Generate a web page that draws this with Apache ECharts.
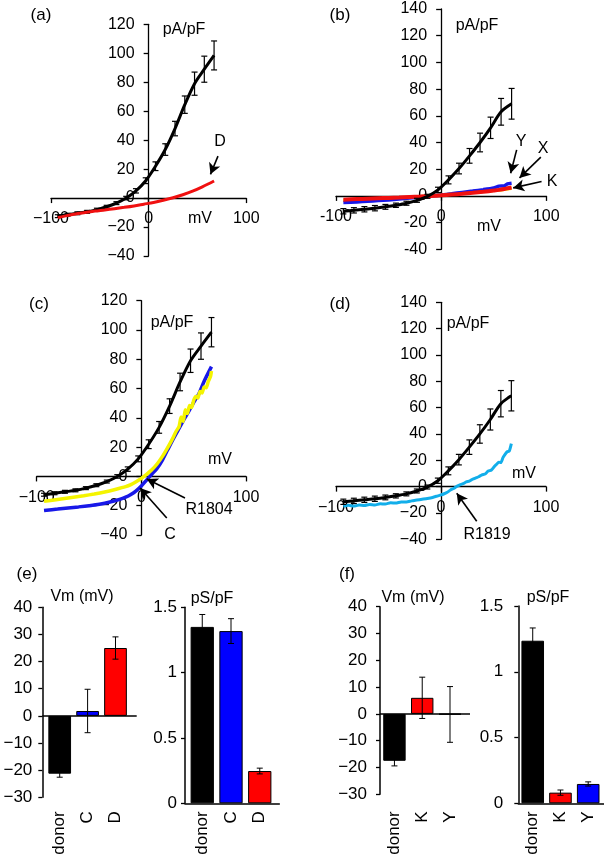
<!DOCTYPE html>
<html><head><meta charset="utf-8">
<script src="https://cdn.jsdelivr.net/npm/echarts@6/dist/echarts.min.js"></script>
<style>html,body{margin:0;padding:0;background:#fff}#c{width:604px;height:859px}</style>
</head><body><div id="c"></div>
<script>
// ---------- data ----------
const stepMv = [-93,-83,-73,-63,-53,-43,-33,-23,-13,-3,7,17,27,37,47,57,67];
// donor (panels a, c)
const donorAC = [-12.5,-11.5,-10.5,-9.5,-8,-6,-3.5,0,5,12,22,33.5,48,64.5,79,89,98.5];
const donorACErr = [1,1,1,1,1,1,1,1.2,1.5,2,3,4,5,6,8,9,10];
// donor (panels b, d)
const donorBD = [-11.5,-10.8,-10,-9.2,-8.2,-7,-5.5,-3.3,-0.3,4.5,12,20.5,30,40,51,63,69];
const donorBDErr = [2,2,2,2,1.8,1.6,1.5,1.5,1.5,2,3,4,5.5,7,8,10,11.5];

// (a) ramp D
const rampMvA = [-93,-85,-75,-65,-55,-45,-35,-25,-15,-5,5,15,25,35,45,55,67];
const rampD = [-13.5,-12.3,-11,-10,-9,-8.2,-7.3,-6.4,-5.4,-4.2,-3,-1.5,0.2,2.3,4.8,7.8,11.8];

// (b) ramps X (yellow), Y (blue), K (red)
const rampMvB = [-93,-80,-70,-60,-50,-40,-30,-20,-10,0,10,20,30,40,50,55,60,63,67];
const rampX = [-3.5,-3,-2.6,-2.2,-1.8,-1.4,-1,-0.5,0,0.8,1.4,2,2.6,3.2,4,4.3,4.8,5.2,5.6];
const rampY = [-5,-4.5,-4,-3.5,-3,-2.3,-1.6,-0.9,-0.1,0.7,1.6,2.6,3.6,4.7,6,7.3,7.5,9,9.5];
const rampK = [-2.8,-2.4,-2.1,-1.8,-1.5,-1.2,-0.8,-0.5,-0.1,0.4,1,1.6,2.3,3.1,4,4.5,5.2,5.7,6.3];

// (c) ramps C (blue), R1804 (yellow)
const rampMvC = [-93,-80,-70,-60,-50,-40,-30,-20,-15,-10,-5,0,5,10,15,20,25,30,35,40,45,50,55,60,67];
const rampC = [-23.2,-22.3,-21.5,-20.8,-20,-19,-17.5,-15.5,-14.2,-12.3,-9.8,-6.5,-2.5,1.5,5.5,11,18,25,31.5,38,44,50.5,56.5,65,75];
const rampMvR1804 = [-93,-85,-75,-65,-55,-45,-35,-25,-15,-10,-5,0,5,10,15,20,25,30,33,36,38,40,42,44,46,48,50,52,54,56,58,60,62,64,66,67];
const rampR1804 = [-17,-16.2,-15.2,-14.2,-13.2,-12,-10.6,-8.9,-7,-5.6,-3.6,-1.3,1.4,4.5,8.5,13.5,19.5,26,30.5,34,40.5,37.5,45.5,43,48.5,47,52,54.5,53.5,58,57,61,60.5,65,68,72];

// (d) ramp R1819 (light blue)
const rampMvD = [-93,-88,-83,-78,-73,-68,-63,-58,-53,-48,-43,-38,-33,-28,-23,-18,-13,-8,-3,0,3,6,9,12,15,18,21,24,27,30,33,36,39,42,45,48,51,53,55,57,59,61,63,65,67];
const rampR1819 = [-15,-14.2,-14.8,-14,-14.4,-13.6,-13.9,-13,-13.2,-12.3,-12.5,-11.6,-11.7,-10.8,-10.2,-9.6,-9,-8.2,-7,-6.3,-5.4,-4.3,-2.6,-1.4,0.2,1.4,2.2,3.6,4.1,5.6,6.6,7.5,9,9.6,11.8,12.6,15.5,17,18.6,18.3,22,24.5,26.5,27,32.6];

// (e) bars
const eCats = ['donor','C','D'];
const eVm = [-21.3, 1.8, 25];
const eVmErr = [1.3, 8, 4.1];
const eG = [1.35, 1.318, 0.247];
const eGErr = [0.095, 0.095, 0.022];
// (f) bars
const fCats = ['donor','K','Y'];
const fVm = [-17.5, 6, -0.2];
const fVmErr = [1.9, 7.7, 10.4];
const fG = [1.236, 0.081, 0.147];
const fGErr = [0.097, 0.02, 0.016];

// annotation arrows (data coords: [tail, tip])
const arrowA_D = [[71, 29], [63.3, 16.4]];
const arrowB_Y = [[71.8, 34.5], [66.1, 17]];
const arrowB_X = [[94.8, 29], [74.5, 13.5]];
const arrowB_K = [[95.5, 10.8], [68.5, 6]];
const arrowC_R = [[41.7, -14.7], [5.2, -1.8]];
const arrowC_C = [[24.3, -28.4], [-1.2, -7.9]];
const arrowD_R = [[34, -26.3], [15, -5]];

// ---------- chart ----------
const FONT = '"Liberation Sans", Arial, Helvetica, sans-serif';
const BLACK = '#000';
const minusFmt = v => (v < 0 ? '\u2212' + Math.abs(v) : String(v));
const hyphenFmt = v => String(v);

// IV panels: plot rectangles and value ranges
const ivPanels = [
  {left:51,   top:24.3,  width:195.3, height:231.7, ymax:120, fmt:minusFmt},
  {left:336,  top:9,     width:210.3, height:240.3, ymax:140, fmt:hyphenFmt},
  {left:36.7, top:300.7, width:209.3, height:234.3, ymax:120, fmt:minusFmt},
  {left:336,  top:302.3, width:210,   height:237,   ymax:140, fmt:minusFmt}
];
const XMIN = -100, XMAX = 100, YMIN = -40;

const barGrids = [
  {left:42.3, top:607.3, width:94.4,  height:190},
  {left:185,  top:607.3, width:94.3,  height:196},
  {left:380,  top:606.7, width:90,    height:187.6},
  {left:518.3,top:606,   width:85.7,  height:197.3}
];

const gridBase = {outerBoundsMode:'none', containLabel:false, show:false};
const grids = [];
const xAxes = [];
const yAxes = [];

function hiddenAxis(gi, min, max) {
  return {gridIndex:gi, type:'value', min:min, max:max, show:false, splitLine:{show:false}};
}
const axisLineStyle = {color:BLACK, width:1.3};

// 0-3: IV data grids (hidden axes)
ivPanels.forEach((p, i) => {
  grids.push(Object.assign({}, gridBase, {left:p.left, top:p.top, width:p.width, height:p.height}));
  xAxes.push(hiddenAxis(i, XMIN, XMAX));
  yAxes.push(hiddenAxis(i, YMIN, p.ymax));
});
// 4-7: bar grids
barGrids.forEach(g => grids.push(Object.assign({}, gridBase, g)));
function barX(i, min, max, cats, showLine, margin) {
  return {gridIndex:i, type:'value', min:min, max:max,
    axisLine:{show:showLine, onZero:false, lineStyle:{color:BLACK, width:1.5}},
    axisTick:{show:false},
    axisLabel:{customValues:[0,1,2], rotate:90, fontSize:17, color:BLACK, fontFamily:FONT, margin:margin,
      formatter: v => cats[Math.round(v)]},
    splitLine:{show:false}};
}
function barY(i, min, max, interval, margin) {
  return {gridIndex:i, type:'value', min:min, max:max, interval:interval,
    axisLine:{show:true, onZero:false, lineStyle:{color:BLACK, width:1.5}},
    axisTick:{show:true, length:4, lineStyle:{color:BLACK, width:1.3}},
    axisLabel:{fontSize:17, color:BLACK, fontFamily:FONT, margin:margin, formatter:minusFmt},
    splitLine:{show:false}};
}
xAxes.push(barX(4, -0.624, 2.76, eCats, false, 14), barX(5, -0.60, 2.68, eCats, true, 8),
           barX(6, -0.52, 2.72, fCats, false, 17), barX(7, -0.52, 2.57, fCats, true, 8));
yAxes.push(barY(4, -30, 40, 10, 10), barY(5, 0, 1.5, 0.5, 8),
           barY(6, -30, 40, 10, 13), barY(7, 0, 1.5, 0.5, 15));

// 8-11: vertical axis of each IV panel, crossing x = 0
ivPanels.forEach((p, i) => {
  const gi = 8 + i;
  const zeroX = p.left + p.width * (0 - XMIN) / (XMAX - XMIN);
  grids.push(Object.assign({}, gridBase, {left:zeroX, top:p.top, width:p.width / 2, height:p.height}));
  xAxes.push(hiddenAxis(gi, 0, 1));
  yAxes.push({gridIndex:gi, type:'value', position:'left', min:YMIN, max:p.ymax, interval:20,
    axisLine:{show:true, onZero:false, lineStyle:axisLineStyle},
    axisTick:{show:true, length:5, lineStyle:axisLineStyle},
    axisLabel:{fontSize:16, color:BLACK, fontFamily:FONT, margin:14, formatter:p.fmt},
    splitLine:{show:false}});
});
// 12-15: horizontal axis of each IV panel, crossing y = 0
ivPanels.forEach((p, i) => {
  const gi = 12 + i;
  const zeroH = p.height * (p.ymax - 0) / (p.ymax - YMIN);
  grids.push(Object.assign({}, gridBase, {left:p.left, top:p.top, width:p.width, height:zeroH}));
  xAxes.push({gridIndex:gi, type:'value', position:'bottom', min:XMIN, max:XMAX, interval:100,
    axisLine:{show:true, onZero:false, lineStyle:axisLineStyle},
    axisTick:{show:true, length:5, lineStyle:axisLineStyle},
    axisLabel:{fontSize:16, color:BLACK, fontFamily:FONT, margin:13, formatter:p.fmt},
    splitLine:{show:false}});
  yAxes.push(hiddenAxis(gi, 0, 1));
});

function pairs(xs, ys) { return xs.map((x, k) => [x, ys[k]]); }
function lineS(i, xs, ys, color, width, z, smooth) {
  return {type:'line', xAxisIndex:i, yAxisIndex:i, data:pairs(xs, ys), showSymbol:false, symbol:'none',
    smooth:smooth, lineStyle:{color:color, width:width}, z:z, silent:true};
}
function errS(i, xs, ys, es, cap, width, z) {
  return {type:'custom', xAxisIndex:i, yAxisIndex:i, z:z, silent:true,
    dimensions:['x','y','e'], encode:{x:0, y:1},
    data: xs.map((x, k) => [x, ys[k], es[k]]),
    renderItem: (params, api) => {
      const x = api.value(0), y = api.value(1), e = api.value(2);
      const t = api.coord([x, y + e]), b = api.coord([x, y - e]);
      const st = {stroke:BLACK, lineWidth:width};
      return {type:'group', children:[
        {type:'line', shape:{x1:t[0], y1:t[1], x2:b[0], y2:b[1]}, style:st},
        {type:'line', shape:{x1:t[0]-cap, y1:t[1], x2:t[0]+cap, y2:t[1]}, style:st},
        {type:'line', shape:{x1:b[0]-cap, y1:b[1], x2:b[0]+cap, y2:b[1]}, style:st}
      ]};
    }};
}
function arrowsML(list) {
  return {silent:true, symbol:['none','arrow'], symbolSize:[9, 11],
    lineStyle:{color:BLACK, width:1.6, type:'solid'}, label:{show:false}, emphasis:{disabled:true},
    data: list.map(a => [{coord:a[0]}, {coord:a[1]}])};
}
function barS(i, vals, colors, width, zeroLine) {
  const s = {type:'bar', xAxisIndex:i, yAxisIndex:i, barWidth:width, silent:true, z:2,
    data: vals.map((v, k) => ({value:[k, v], itemStyle:{color:colors[k], borderColor:BLACK, borderWidth:1}}))};
  if (zeroLine) {
    s.markLine = {silent:true, symbol:'none', label:{show:false},
      lineStyle:{color:BLACK, width:1.5, type:'solid'}, data:[{yAxis:0}]};
  }
  return s;
}

const RED = '#f01010', BLUE = '#1818e8', YEL = '#f4f400', LBLUE = '#12aeea';

const series = [
  // (a)
  lineS(0, stepMv, donorAC, BLACK, 3, 3, 0.3),
  errS(0, stepMv, donorAC, donorACErr, 3, 1.2, 4),
  Object.assign(lineS(0, rampMvA, rampD, RED, 3, 5, 0.3), {markLine: arrowsML([arrowA_D])}),
  // (b)
  lineS(1, rampMvB, rampX, YEL, 3, 2, 0.3),
  lineS(1, rampMvB, rampY, BLUE, 3.5, 3, 0.2),
  Object.assign(lineS(1, rampMvB, rampK, RED, 4, 4, 0.3), {markLine: arrowsML([arrowB_Y, arrowB_X, arrowB_K])}),
  lineS(1, stepMv, donorBD, BLACK, 3, 5, 0.3),
  errS(1, stepMv, donorBD, donorBDErr, 3, 1.2, 6),
  // (c)
  lineS(2, rampMvC, rampC, BLUE, 3.5, 2, 0.3),
  Object.assign(lineS(2, rampMvR1804, rampR1804, YEL, 3.5, 3, 0.2), {markLine: arrowsML([arrowC_R, arrowC_C])}),
  lineS(2, stepMv, donorAC, BLACK, 3, 4, 0.3),
  errS(2, stepMv, donorAC, donorACErr, 3, 1.2, 5),
  // (d)
  Object.assign(lineS(3, rampMvD, rampR1819, LBLUE, 3, 2, 0.2), {markLine: arrowsML([arrowD_R])}),
  lineS(3, stepMv, donorBD, BLACK, 3, 4, 0.3),
  errS(3, stepMv, donorBD, donorBDErr, 3, 1.2, 5),
  // (e)
  barS(4, eVm, [BLACK, '#0000ff', '#ff0000'], 22.7, true),
  errS(4, [0,1,2], eVm, eVmErr, 3, 1, 5),
  barS(5, eG, [BLACK, '#0000ff', '#ff0000'], 23.3, false),
  errS(5, [0,1,2], eG, eGErr, 3, 1, 5),
  // (f)
  barS(6, fVm, [BLACK, '#ff0000', '#0000ff'], 22.4, true),
  errS(6, [0,1,2], fVm, fVmErr, 3, 1, 5),
  barS(7, fG, [BLACK, '#ff0000', '#0000ff'], 22.6, false),
  errS(7, [0,1,2], fG, fGErr, 3, 1, 5)
];

function txt(t, x, y, size) {
  return {type:'text', x:x, y:y, silent:true, z:100,
    style:{text:t, fill:BLACK, font:(size||16) + 'px ' + FONT,
      align:'center', verticalAlign:'middle', textAlign:'center', textVerticalAlign:'middle'}};
}

const graphics = [
  txt('(a)', 41, 15, 17), txt('pA/pF', 184, 30), txt('mV', 200, 219), txt('D', 220, 142),
  txt('(b)', 340, 15, 17), txt('pA/pF', 477, 26), txt('mV', 489, 227),
  txt('Y', 521, 142), txt('X', 543, 149), txt('K', 552, 182),
  txt('(c)', 39, 304, 17), txt('pA/pF', 172, 323), txt('mV', 220, 460), txt('R1804', 209, 510), txt('C', 170, 535),
  txt('(d)', 340, 304, 17), txt('pA/pF', 468, 324), txt('mV', 524, 474), txt('R1819', 487, 535),
  txt('(e)', 27, 574, 17), txt('Vm (mV)', 82, 597), txt('pS/pF', 212, 599),
  txt('(f)', 347, 574, 17), txt('Vm (mV)', 413, 598), txt('pS/pF', 548, 598)
];

const chart = echarts.init(document.getElementById('c'), null, {width:604, height:859});
chart.setOption({
  animation:false,
  backgroundColor:'#fff',
  textStyle:{fontFamily:FONT},
  grid: grids,
  xAxis: xAxes,
  yAxis: yAxes,
  series: series,
  graphic: graphics
});
</script>
</body></html>
